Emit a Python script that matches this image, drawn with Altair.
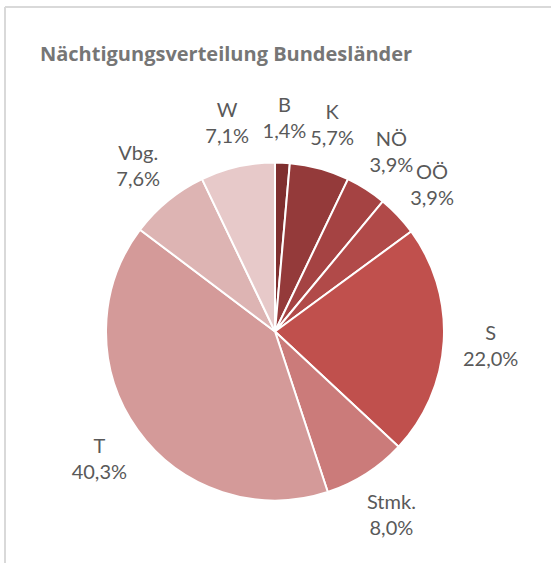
import altair as alt
import pandas as pd

names = ["B", "K", "NÖ", "OÖ", "S", "Stmk.", "T", "Vbg.", "W"]
shares = [1.4, 5.7, 3.9, 3.9, 22.0, 8.0, 40.3, 7.6, 7.1]
share_text = ["1,4%", "5,7%", "3,9%", "3,9%", "22,0%", "8,0%", "40,3%", "7,6%", "7,1%"]
colors = ["#7F2F2F", "#943A3A", "#A54343", "#B14A49", "#C0504D",
          "#CB7B7A", "#D49A99", "#DDB4B3", "#E7C9C9"]

df = pd.DataFrame({
    "name": names,
    "share": shares,
    "label": [f"{n}\n{t}" for n, t in zip(names, share_text)],
    "order": list(range(len(names))),
})

theta = alt.Theta("share:Q", stack=True, scale=alt.Scale(range=[0, 6.2832]))
order = alt.Order("order:O", sort="ascending")

pie = alt.Chart(df).mark_arc(outerRadius=169, stroke="white", strokeWidth=2).encode(
    theta=theta,
    order=order,
    color=alt.Color("name:N", scale=alt.Scale(domain=names, range=colors), legend=None),
)

text = alt.Chart(df).mark_text(
    radius=216, lineBreak="\n", font="Lato", fontSize=20, lineHeight=26,
    color="#595959", align="center", baseline="middle", dy=-10,
).encode(theta=theta, order=order, text="label:N")

frame_left = alt.Chart(df).mark_rule(color="#d9d9d9", strokeWidth=1.5).encode(
    x=alt.value(5), y=alt.value(-93), y2=alt.value(470)
)
frame_top = alt.Chart(df).mark_rule(color="#d9d9d9", strokeWidth=1.5).encode(
    x=alt.value(5), x2=alt.value(560), y=alt.value(-93)
)

chart = alt.layer(frame_left, frame_top, pie, text).properties(
    width=550, height=463,
    padding={"left": 0, "top": 100, "right": 1, "bottom": 0},
    autosize=alt.AutoSizeParams(type="none"),
    title=alt.TitleParams(
        "Nächtigungsverteilung Bundesländer", anchor="start", dx=40, offset=0, dy=59,
        font="Open Sans", fontSize=20, fontWeight="bold", color="#767676",
    ),
).configure_view(stroke=None)

chart.save("out.html", embed_options={"renderer": "svg", "actions": False})
